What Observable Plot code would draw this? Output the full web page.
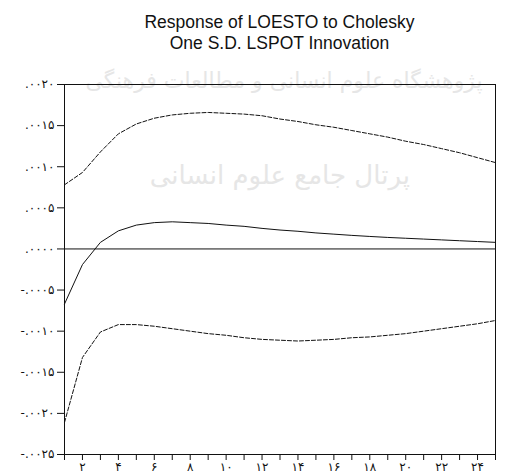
<!DOCTYPE html>
<html>
<head>
<meta charset="utf-8">
<script src="https://cdn.jsdelivr.net/npm/d3@7"></script>
<script src="https://cdn.jsdelivr.net/npm/@observablehq/plot@0.6"></script>
<style>
  html, body { margin: 0; padding: 0; background: white; }
  #wrap { position: relative; width: 506px; height: 474px; overflow: hidden; }
  .wm { position: absolute; color: #e6e6e6; font-family: 'DejaVu Sans', sans-serif; white-space: nowrap; direction: rtl; text-align: center; }
  #title { position: relative; height: 60px; box-sizing: border-box; padding: 12px 11px 0 64px; text-align: center;
           font-family: 'Liberation Sans', Arial, sans-serif; font-size: 17.5px; line-height: 21px; color: #111; }
  #chart { position: relative; }
</style>
</head>
<body>
<div id="wrap">
  <div class="wm" style="left:68px; top:68px; width:432px; font-size:22px;">پژوهشگاه علوم انسانی و مطالعات فرهنگی</div>
  <div class="wm" style="left:200px; top:160px; width:210px; font-size:26px;">پرتال جامع علوم انسانی</div>
  <div id="title">Response of LOESTO to Cholesky<br>One S.D. LSPOT Innovation</div>
  <div id="chart"></div>
</div>
<script>
// Periods (horizon)
const periods = d3.range(1, 26);
// Impulse response of LOESTO to one S.D. LSPOT innovation
const response = [-0.0067, -0.0019, 0.0008, 0.0022, 0.0029, 0.0032, 0.0033, 0.0032, 0.0031, 0.0029,
                  0.00275, 0.0025, 0.0023, 0.00215, 0.00195, 0.0018, 0.00165, 0.00152, 0.0014, 0.0013,
                  0.0012, 0.0011, 0.0010, 0.0009, 0.0008];
// Upper +2 S.E. band
const upper = [0.0078, 0.0093, 0.0118, 0.0140, 0.0152, 0.0159, 0.0163, 0.0165, 0.0166, 0.0165,
               0.0164, 0.0162, 0.0158, 0.0155, 0.0151, 0.0148, 0.0144, 0.0140, 0.0136, 0.0131,
               0.0127, 0.0122, 0.0117, 0.0111, 0.0105];
// Lower -2 S.E. band
const lower = [-0.0211, -0.0132, -0.0101, -0.0092, -0.0092, -0.0094, -0.0097, -0.0100, -0.0103, -0.0105,
               -0.0108, -0.0110, -0.0111, -0.0112, -0.0111, -0.0110, -0.0108, -0.0107, -0.0105, -0.0103,
               -0.0100, -0.0097, -0.0094, -0.0091, -0.0087];

// Tick values and labels
const yTicks = [0.020, 0.015, 0.010, 0.005, 0.000, -0.005, -0.010, -0.015, -0.020, -0.025];
const yTickLabels = [".۰۰۲۰", ".۰۰۱۵", ".۰۰۱۰", ".۰۰۰۵", ".۰۰۰۰", "-.۰۰۰۵", "-.۰۰۱۰", "-.۰۰۱۵", "-.۰۰۲۰", "-.۰۰۲۵"];
const xLabelTicks = [2, 4, 6, 8, 10, 12, 14, 16, 18, 20, 22, 24];
const xTickLabels = ["۲", "۴", "۶", "۸", "۱۰", "۱۲", "۱۴", "۱۶", "۱۸", "۲۰", "۲۲", "۲۴"];

const yLabelMap = new Map(yTicks.map((v, i) => [Math.round(v * 10000), yTickLabels[i]]));
const xLabelMap = new Map(xLabelTicks.map((v, i) => [v, xTickLabels[i]]));

const data = periods.map((p, i) => ({period: p, response: response[i], upper: upper[i], lower: lower[i]}));

const chart = Plot.plot({
  width: 506,
  height: 414,
  marginTop: 24,
  marginBottom: 20,
  marginLeft: 64,
  marginRight: 11,
  style: {background: "transparent", fontFamily: "'DejaVu Sans', sans-serif", fontSize: "12px", color: "#111"},
  x: {domain: [1, 25]},
  y: {domain: [-0.025, 0.020]},
  marks: [
    Plot.ruleY([0], {stroke: "#111", strokeWidth: 1}),
    Plot.line(data, {x: "period", y: "upper", stroke: "#111", strokeWidth: 1, strokeDasharray: "4,2"}),
    Plot.line(data, {x: "period", y: "lower", stroke: "#111", strokeWidth: 1, strokeDasharray: "4,2"}),
    Plot.line(data, {x: "period", y: "response", stroke: "#111", strokeWidth: 1}),
    Plot.frame({stroke: "#111", strokeWidth: 1}),
    Plot.axisX({ticks: periods, tickFormat: d => xLabelMap.get(d) ?? "", tickSize: 6, tickPadding: 2, label: null}),
    Plot.axisY({ticks: yTicks, tickFormat: d => yLabelMap.get(Math.round(d * 10000)) ?? "", tickSize: 7, tickPadding: 3, label: null})
  ]
});
document.getElementById("chart").appendChild(chart);
</script>
</body>
</html>
